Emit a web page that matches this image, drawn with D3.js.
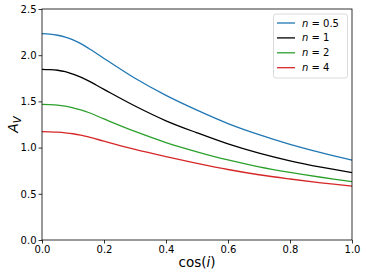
<!DOCTYPE html>
<html><head><meta charset="utf-8">
<script src="https://cdn.jsdelivr.net/npm/d3@7"></script>
<style>body{margin:0;background:#fff}svg{display:block;font-family:"DejaVu Sans",sans-serif}</style>
</head><body>
<svg id="c" width="366" height="276"></svg>
<script>
const cosI = [0, 0.025, 0.05, 0.075, 0.1, 0.125, 0.15, 0.2, 0.3, 0.4, 0.5, 0.6, 0.7, 0.8, 0.9, 1.0];
const n05 = [2.233, 2.228, 2.216, 2.195, 2.165, 2.125, 2.075, 1.965, 1.75, 1.565, 1.405, 1.26, 1.14, 1.035, 0.945, 0.864];
const n1  = [1.847, 1.844, 1.837, 1.822, 1.795, 1.762, 1.722, 1.63, 1.45, 1.29, 1.16, 1.04, 0.94, 0.857, 0.788, 0.729];
const n2  = [1.468, 1.466, 1.46, 1.448, 1.43, 1.407, 1.38, 1.31, 1.175, 1.055, 0.955, 0.866, 0.792, 0.732, 0.679, 0.632];
const n4  = [1.172, 1.171, 1.167, 1.16, 1.15, 1.135, 1.115, 1.07, 0.98, 0.902, 0.83, 0.763, 0.706, 0.66, 0.619, 0.584];
const seriesNames = ["0.5", "1", "2", "4"];
const seriesColors = ["#1f77b4", "#000000", "#2ca02c", "#d62728"];
const xTicks = [0, 0.2, 0.4, 0.6, 0.8, 1.0];
const yTicks = [0, 0.5, 1.0, 1.5, 2.0, 2.5];

const series = [n05, n1, n2, n4];
const svg = d3.select("#c");
const L = 42, R = 352, T = 9, B = 240;
const x = d3.scaleLinear().domain([0, 1]).range([L, R]);
const y = d3.scaleLinear().domain([0, 2.5]).range([B, T]);

const line = d3.line().x(d => x(d[0])).y(d => y(d[1])).curve(d3.curveCatmullRom.alpha(0.5));
series.forEach((s, k) => {
  svg.append("path").datum(cosI.map((c, i) => [c, s[i]]))
    .attr("d", line).attr("fill", "none")
    .attr("stroke", seriesColors[k]).attr("stroke-width", 1.3);
});

const xa = svg.append("g").attr("transform", `translate(0,${B})`)
  .call(d3.axisBottom(x).tickValues(xTicks).tickFormat(d3.format(".1f")).tickSize(3.5).tickPadding(2));
const ya = svg.append("g").attr("transform", `translate(${L},0)`)
  .call(d3.axisLeft(y).tickValues(yTicks).tickFormat(d3.format(".1f")).tickSize(3.5).tickPadding(2));
[xa, ya].forEach(a => {
  a.selectAll("text").attr("font-size", 10).attr("fill", "#000").attr("font-family", "DejaVu Sans");
  a.selectAll("line").attr("stroke", "#000").attr("stroke-width", 0.8);
  a.select(".domain").remove();
});
svg.append("rect").attr("x", L).attr("y", T).attr("width", R - L).attr("height", B - T)
  .attr("fill", "none").attr("stroke", "#000").attr("stroke-width", 0.8);

// axis labels
svg.append("text").attr("x", x(0.5)).attr("y", 267).attr("text-anchor", "middle")
  .attr("font-size", 13.5).attr("fill", "#000")
  .html('cos(<tspan font-style="italic">i</tspan>)');
svg.append("text").attr("transform", `translate(18,${(T + B) / 2}) rotate(-90)`)
  .attr("text-anchor", "middle").attr("font-size", 14).attr("fill", "#000")
  .html('<tspan font-style="italic">A</tspan><tspan font-style="italic" font-size="10" dy="3">V</tspan>');

// legend
const lg = svg.append("g");
lg.append("rect").attr("x", 273.5).attr("y", 14).attr("width", 74).attr("height", 64)
  .attr("rx", 2.5).attr("fill", "#fff").attr("fill-opacity", 0.8)
  .attr("stroke", "#d0d0d0").attr("stroke-width", 0.8);
seriesNames.forEach((nm, k) => {
  const yy = 23 + k * 14.9;
  lg.append("line").attr("x1", 277).attr("x2", 295).attr("y1", yy).attr("y2", yy)
    .attr("stroke", seriesColors[k]).attr("stroke-width", 1.3);
  lg.append("text").attr("x", 302).attr("y", yy + 3.5).attr("font-size", 10).attr("fill", "#000")
    .html('<tspan font-style="italic">n</tspan> = ' + nm);
});
</script>
</body></html>
